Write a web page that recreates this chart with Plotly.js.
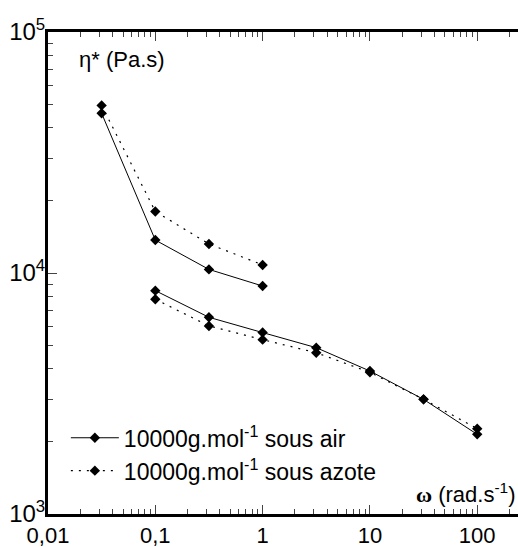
<!DOCTYPE html>
<html>
<head>
<meta charset="utf-8">
<script src="https://cdn.plot.ly/plotly-3.0.1.min.js"></script>
<style>html,body{margin:0;padding:0;background:#fff;}</style>
</head>
<body>
<div id="chart" style="width:518px;height:547px;"></div>
<script>
// angular frequency (rad/s)
var omegaUpper = [0.0316, 0.1, 0.316, 1];
var omegaLower = [0.1, 0.316, 1, 3.16, 10, 31.6, 100];
// complex viscosity (Pa.s)
var etaAirUpper = [46000, 13700, 10350, 8830];
var etaAirLower = [8450, 6550, 5660, 4900, 3920, 2990, 2140];
var etaN2Upper = [49600, 18000, 13200, 10800];
var etaN2Lower = [7780, 6030, 5290, 4670, 3870, 2990, 2260];

var seriesNames = ['10000g.mol<sup>-1</sup> sous air', '10000g.mol<sup>-1</sup> sous azote'];
var xTickVals = [0.01, 0.1, 1, 10, 100];
var xTickText = ['0,01', '0,1', '1', '10', '100'];
var yTickVals = [1000, 10000, 100000];
var yTickText = ['10<sup>3</sup>', '10<sup>4</sup>', '10<sup>5</sup>'];

var FONT = 'Arial, "Liberation Sans", sans-serif';
var mk = {symbol: 'diamond', size: 8, color: '#000'};
var solid = {color: '#000', width: 1};
var dotted = {color: '#000', width: 1.2, dash: '2px,6px'};

var traces = [
  {x: omegaUpper, y: etaAirUpper, mode: 'lines+markers', name: seriesNames[0], legendgroup: 'a', showlegend: true, line: solid, marker: mk},
  {x: omegaLower, y: etaAirLower, mode: 'lines+markers', name: seriesNames[0], legendgroup: 'a', showlegend: false, line: solid, marker: mk},
  {x: omegaUpper, y: etaN2Upper, mode: 'lines+markers', name: seriesNames[1], legendgroup: 'b', showlegend: true, line: dotted, marker: mk},
  {x: omegaLower, y: etaN2Lower, mode: 'lines+markers', name: seriesNames[1], legendgroup: 'b', showlegend: false, line: dotted, marker: mk}
];

var layout = {
  width: 518, height: 547,
  margin: {l: 48, r: 0, t: 32, b: 33},
  paper_bgcolor: '#fff', plot_bgcolor: '#fff',
  font: {family: FONT, size: 22, color: '#000'},
  showlegend: true,
  legend: {x: 0.038, y: 0.045, xanchor: 'left', yanchor: 'bottom', bgcolor: 'rgba(0,0,0,0)',
           font: {family: FONT, size: 23, color: '#000'}, itemwidth: 48, tracegroupgap: 0},
  xaxis: {
    type: 'log', range: [-2, 2.38], showgrid: false, zeroline: false,
    showline: true, linewidth: 3, linecolor: '#000', mirror: 'ticks',
    ticks: 'inside', ticklen: 9, tickwidth: 1, tickcolor: '#444',
    tickmode: 'array', tickvals: xTickVals, ticktext: xTickText,
    tickfont: {family: FONT, size: 22, color: '#000'},
    minor: {dtick: 'D1', ticks: 'inside', ticklen: 5, tickwidth: 1, tickcolor: '#444', showgrid: false}
  },
  yaxis: {
    type: 'log', range: [3, 5], showgrid: false, zeroline: false,
    showline: true, linewidth: 3, linecolor: '#000',
    ticks: 'inside', ticklen: 9, tickwidth: 1, tickcolor: '#444',
    tickmode: 'array', tickvals: yTickVals, ticktext: yTickText,
    ticklabelstandoff: -5,
    tickfont: {family: FONT, size: 24, color: '#000'},
    minor: {dtick: 'D1', ticks: 'inside', ticklen: 5, tickwidth: 1, tickcolor: '#444', showgrid: false}
  },
  annotations: [
    {xref: 'paper', yref: 'paper', x: 0.062, y: 0.943, xanchor: 'left', yanchor: 'middle', showarrow: false,
     text: 'η* (Pa.s)', font: {family: FONT, size: 22, color: '#000'}},
    {xref: 'paper', yref: 'paper', x: 0.998, y: 0.043, xanchor: 'right', yanchor: 'middle', showarrow: false,
     text: '<span style="font-family:\'Liberation Serif\',\'Times New Roman\',serif;font-weight:bold">ω</span> (rad.s<sup>-1</sup>)',
     font: {family: FONT, size: 22, color: '#000'}}
  ]
};

Plotly.newPlot('chart', traces, layout, {displayModeBar: false, staticPlot: true});
</script>
</body>
</html>
